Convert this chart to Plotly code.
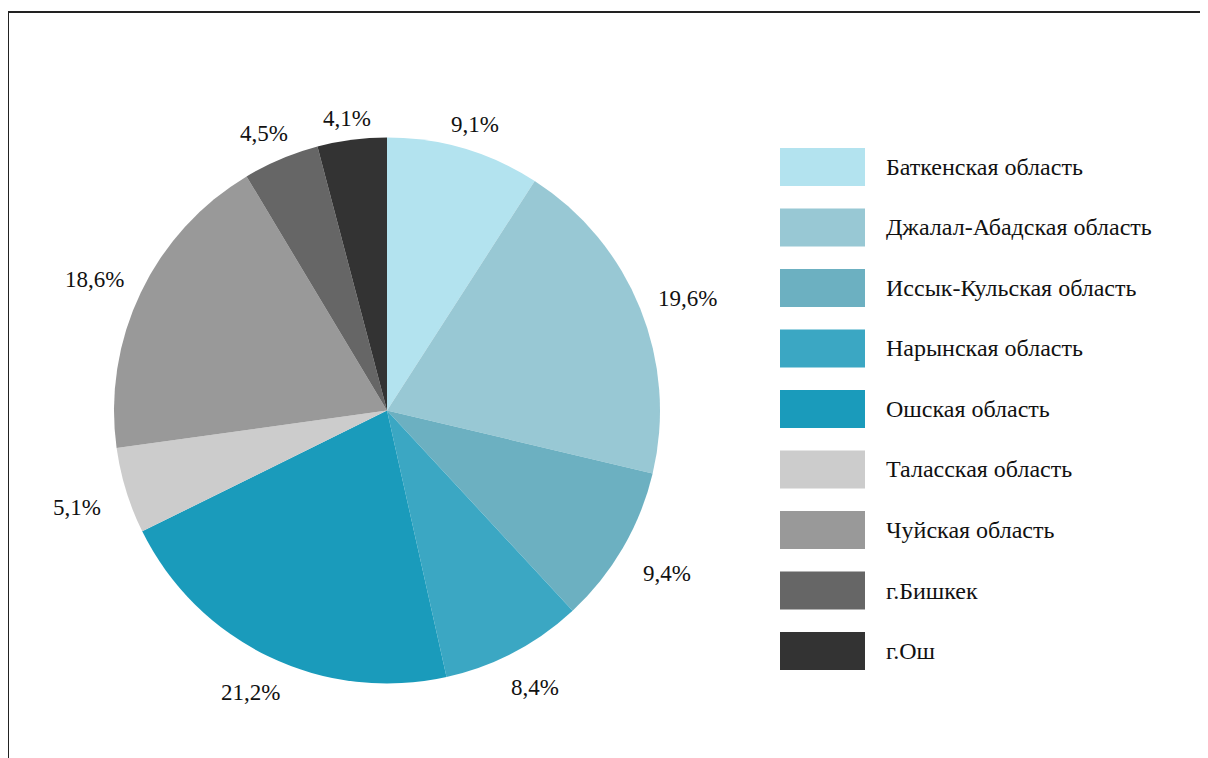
import math
import plotly.graph_objects as go

regions = ["Баткенская область", "Джалал-Абадская область", "Иссык-Кульская область",
           "Нарынская область", "Ошская область", "Таласская область",
           "Чуйская область", "г.Бишкек", "г.Ош"]
shares = [9.1, 19.6, 9.4, 8.4, 21.2, 5.1, 18.6, 4.5, 4.1]
colors = ["#b3e3ef", "#98c8d4", "#6cb0c1", "#3ba7c3", "#1a9bbb",
          "#cccccc", "#999999", "#666666", "#333333"]

W, H = 1200, 750
FONT = "Liberation Serif"
CX, CY, R = 379, 402.5, 273   # pie centre / radius in page pixels
RX, RY = 278, 268              # label ring follows the slightly wide original pie
GAP = 17                       # gap between pie edge and a value label
LBL_W, LBL_H = 54, 22          # approximate size of one value label


def dom(r):
    return dict(x=[(CX - r) / W, (CX + r) / W], y=[1 - (CY + r) / H, 1 - (CY - r) / H])


fig = go.Figure()
fig.add_trace(go.Pie(
    labels=regions, values=shares, sort=False, direction="clockwise", rotation=0,
    marker=dict(colors=colors, line=dict(width=0)),
    textinfo="none", showlegend=False, hoverinfo="label+value",
    domain=dom(R),
))

annotations = []
# value labels placed outside each slice, along the slice's middle angle
total = sum(shares)
cum = 0.0
for v in shares:
    theta = 2 * math.pi * (cum + v / 2) / total   # clockwise from 12 o'clock
    cum += v
    s, c = math.sin(theta), math.cos(theta)
    off = GAP + abs(s) * LBL_W / 2 + abs(c) * LBL_H / 2
    px = CX + (RX + off) * s
    py = CY - (RY + off) * c + 5
    annotations.append(dict(xref="paper", yref="paper", x=px / W, y=1 - py / H,
                            text=f"{v:.1f}%".replace(".", ","), showarrow=False,
                            xanchor="center", yanchor="middle",
                            font=dict(family=FONT, size=23, color="#111111")))

shapes = [dict(type="rect", xref="paper", yref="paper", x0=0, x1=1.02, y0=-0.02, y1=1 - 4 / H,
               line=dict(color="#222222", width=2), fillcolor="rgba(0,0,0,0)")]
row0, step, sh = 159, 60.5, 38
for i, (name, col) in enumerate(zip(regions, colors)):
    yc = row0 + i * step
    shapes.append(dict(type="rect", xref="paper", yref="paper", x0=772 / W, x1=857 / W,
                       y0=1 - (yc + sh / 2) / H, y1=1 - (yc - sh / 2) / H,
                       line=dict(width=0), fillcolor=col))
    annotations.append(dict(xref="paper", yref="paper", x=876 / W, y=1 - yc / H, text=name,
                            showarrow=False, xanchor="left", yanchor="middle",
                            font=dict(family=FONT, size=24, color="#111111")))

fig.update_layout(width=W, height=H, margin=dict(l=0, r=0, t=0, b=0),
                  paper_bgcolor="white", plot_bgcolor="white",
                  shapes=shapes, annotations=annotations)
fig.write_html("out.html")
